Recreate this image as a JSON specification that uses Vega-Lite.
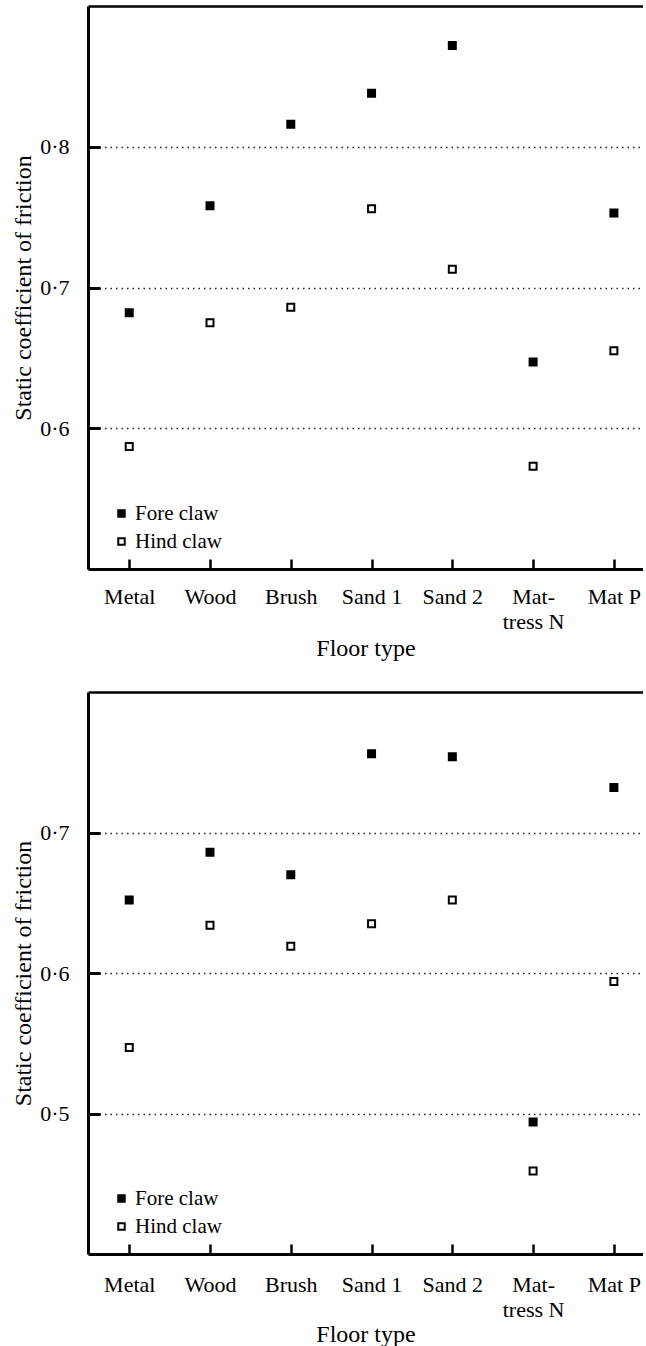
{
  "$schema": "https://vega.github.io/schema/vega-lite/v6.json",
  "padding": {"left": 11, "top": 6, "right": 0, "bottom": 0},
  "background": "white",
  "config": {
    "font": "Liberation Serif",
    "view": {"stroke": null},
    "axis": {
      "labelFont": "Liberation Serif",
      "titleFont": "Liberation Serif",
      "labelFontSize": 22,
      "titleFontSize": 24,
      "titleFontWeight": "normal",
      "labelColor": "black",
      "titleColor": "black",
      "domainColor": "black",
      "tickColor": "black"
    },
    "legend": {
      "orient": "bottom-left",
      "offset": 17,
      "padding": 0,
      "symbolType": "square",
      "symbolSize": 42,
      "symbolStrokeWidth": 2,
      "symbolStrokeColor": "black",
      "symbolOpacity": 1,
      "symbolOffset": 6,
      "labelFont": "Liberation Serif",
      "labelFontSize": 21,
      "labelColor": "black",
      "labelOffset": 3,
      "rowPadding": 6
    }
  },
  "data": {
    "values": [
      {"panel": "A", "floor": "Metal", "claw": "Fore claw", "value": 0.682},
      {"panel": "A", "floor": "Metal", "claw": "Hind claw", "value": 0.587},
      {"panel": "A", "floor": "Wood", "claw": "Fore claw", "value": 0.758},
      {"panel": "A", "floor": "Wood", "claw": "Hind claw", "value": 0.675},
      {"panel": "A", "floor": "Brush", "claw": "Fore claw", "value": 0.816},
      {"panel": "A", "floor": "Brush", "claw": "Hind claw", "value": 0.686},
      {"panel": "A", "floor": "Sand 1", "claw": "Fore claw", "value": 0.838},
      {"panel": "A", "floor": "Sand 1", "claw": "Hind claw", "value": 0.756},
      {"panel": "A", "floor": "Sand 2", "claw": "Fore claw", "value": 0.872},
      {"panel": "A", "floor": "Sand 2", "claw": "Hind claw", "value": 0.713},
      {"panel": "A", "floor": "Mattress N", "claw": "Fore claw", "value": 0.647},
      {"panel": "A", "floor": "Mattress N", "claw": "Hind claw", "value": 0.573},
      {"panel": "A", "floor": "Mat P", "claw": "Fore claw", "value": 0.753},
      {"panel": "A", "floor": "Mat P", "claw": "Hind claw", "value": 0.655},
      {"panel": "B", "floor": "Metal", "claw": "Fore claw", "value": 0.652},
      {"panel": "B", "floor": "Metal", "claw": "Hind claw", "value": 0.547},
      {"panel": "B", "floor": "Wood", "claw": "Fore claw", "value": 0.686},
      {"panel": "B", "floor": "Wood", "claw": "Hind claw", "value": 0.634},
      {"panel": "B", "floor": "Brush", "claw": "Fore claw", "value": 0.670},
      {"panel": "B", "floor": "Brush", "claw": "Hind claw", "value": 0.619},
      {"panel": "B", "floor": "Sand 1", "claw": "Fore claw", "value": 0.756},
      {"panel": "B", "floor": "Sand 1", "claw": "Hind claw", "value": 0.635},
      {"panel": "B", "floor": "Sand 2", "claw": "Fore claw", "value": 0.754},
      {"panel": "B", "floor": "Sand 2", "claw": "Hind claw", "value": 0.652},
      {"panel": "B", "floor": "Mattress N", "claw": "Fore claw", "value": 0.494},
      {"panel": "B", "floor": "Mattress N", "claw": "Hind claw", "value": 0.459},
      {"panel": "B", "floor": "Mat P", "claw": "Fore claw", "value": 0.732},
      {"panel": "B", "floor": "Mat P", "claw": "Hind claw", "value": 0.594}
    ]
  },
  "spacing": 32,
  "resolve": {"scale": {"x": "independent", "y": "independent", "fill": "independent"}},
  "vconcat": [
    {
      "width": 555,
      "height": 563,
      "transform": [{"filter": "datum.panel == 'A'"}],
      "layer": [
        {
          "mark": {"type": "point", "shape": "square", "size": 49, "strokeWidth": 2, "stroke": "black", "opacity": 1},
          "encoding": {
            "x": {
              "field": "floor", "type": "nominal",
              "sort": ["Metal", "Wood", "Brush", "Sand 1", "Sand 2", "Mattress N", "Mat P"],
              "scale": {"type": "point", "padding": 0.4356, "align": 0.586},
              "axis": {
                "orient": "bottom", "title": "Floor type", "titlePadding": 4,
                "labelAngle": 0, "labelPadding": 27, "labelLineHeight": 25,
                "labelExpr": "datum.label == 'Mattress N' ? ['Mat-', 'tress N'] : datum.label",
                "tickSize": {"expr": "-10"}, "tickWidth": 2.5, "domainWidth": 3, "grid": false
              }
            },
            "y": {
              "field": "value", "type": "quantitative",
              "scale": {"domain": [0.5, 0.9], "nice": false, "zero": false},
              "axis": {
                "values": [0.6, 0.7, 0.8],
                "labelExpr": "replace(format(datum.value, '.1f'), '.', '·')",
                "grid": true, "gridDash": [1.5, 4], "gridColor": "#222", "gridWidth": 1.5,
                "tickSize": {"expr": "-12"}, "tickWidth": 3, "domainWidth": 3,
                "labelPadding": 31,
                "title": "Static coefficient of friction", "titlePadding": 4
              }
            },
            "fill": {
              "field": "claw", "type": "nominal",
              "scale": {"domain": ["Fore claw", "Hind claw"], "range": ["black", "white"]},
              "legend": {"title": null}
            }
          }
        },
        {
          "mark": {"type": "point", "opacity": 0},
          "encoding": {
            "x": {
              "field": "floor", "type": "nominal",
              "sort": ["Metal", "Wood", "Brush", "Sand 1", "Sand 2", "Mattress N", "Mat P"],
              "axis": {"orient": "top", "labels": false, "ticks": false, "title": null, "domainWidth": 2.5, "grid": false}
            }
          }
        }
      ],
      "resolve": {"axis": {"x": "independent"}}
    },
    {
      "width": 555,
      "height": 562,
      "transform": [{"filter": "datum.panel == 'B'"}],
      "layer": [
        {
          "mark": {"type": "point", "shape": "square", "size": 49, "strokeWidth": 2, "stroke": "black", "opacity": 1},
          "encoding": {
            "x": {
              "field": "floor", "type": "nominal",
              "sort": ["Metal", "Wood", "Brush", "Sand 1", "Sand 2", "Mattress N", "Mat P"],
              "scale": {"type": "point", "padding": 0.4356, "align": 0.586},
              "axis": {
                "orient": "bottom", "title": "Floor type", "titlePadding": 2,
                "labelAngle": 0, "labelPadding": 30, "labelLineHeight": 25,
                "labelExpr": "datum.label == 'Mattress N' ? ['Mat-', 'tress N'] : datum.label",
                "tickSize": {"expr": "-10"}, "tickWidth": 2.5, "domainWidth": 3, "grid": false
              }
            },
            "y": {
              "field": "value", "type": "quantitative",
              "scale": {"domain": [0.4, 0.8], "nice": false, "zero": false},
              "axis": {
                "values": [0.5, 0.6, 0.7],
                "labelExpr": "replace(format(datum.value, '.1f'), '.', '·')",
                "grid": true, "gridDash": [1.5, 4], "gridColor": "#222", "gridWidth": 1.5,
                "tickSize": {"expr": "-12"}, "tickWidth": 3, "domainWidth": 3,
                "labelPadding": 31,
                "title": "Static coefficient of friction", "titlePadding": 4
              }
            },
            "fill": {
              "field": "claw", "type": "nominal",
              "scale": {"domain": ["Fore claw", "Hind claw"], "range": ["black", "white"]},
              "legend": {"title": null}
            }
          }
        },
        {
          "mark": {"type": "point", "opacity": 0},
          "encoding": {
            "x": {
              "field": "floor", "type": "nominal",
              "sort": ["Metal", "Wood", "Brush", "Sand 1", "Sand 2", "Mattress N", "Mat P"],
              "axis": {"orient": "top", "labels": false, "ticks": false, "title": null, "domainWidth": 2.5, "grid": false}
            }
          }
        }
      ],
      "resolve": {"axis": {"x": "independent"}}
    }
  ]
}
